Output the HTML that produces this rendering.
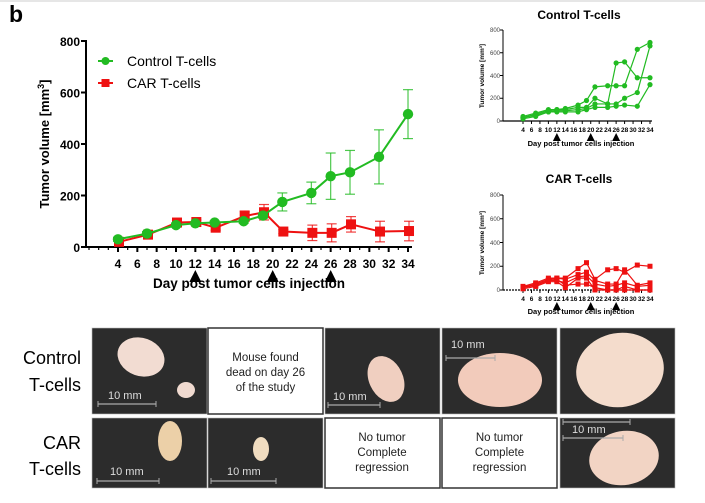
<!DOCTYPE html>
<html><head><meta charset="utf-8"><style>
html,body{margin:0;padding:0;background:#fff;width:705px;height:503px;overflow:hidden}
svg{display:block;font-family:"Liberation Sans",Arial,sans-serif}
</style></head><body>
<svg id="s" width="705" height="503" viewBox="0 0 705 503">
<rect x="0" y="0" width="705" height="2" fill="#e6e6e6"/>
<text x="9" y="22" font-size="23" font-weight="bold">b</text>
<g font-size="12" font-weight="bold" text-anchor="end">
<text x="80" y="46">800</text><text x="80" y="149">400</text><text x="80" y="252">0</text>
<text x="80" y="97.5">600</text><text x="80" y="200.5">200</text>
</g>
<text transform="translate(49,144) rotate(-90)" font-size="13" font-weight="bold" text-anchor="middle">Tumor volume [mm<tspan font-size="9" dy="-5">3</tspan><tspan dy="5">]</tspan></text>
<g font-size="12" font-weight="bold" text-anchor="middle">
<text x="118" y="268">4</text><text x="137.3" y="268">6</text><text x="156.7" y="268">8</text><text x="176" y="268">10</text><text x="195.3" y="268">12</text><text x="214.7" y="268">14</text><text x="234" y="268">16</text><text x="253.3" y="268">18</text><text x="272.7" y="268">20</text><text x="292" y="268">22</text><text x="311.3" y="268">24</text><text x="330.7" y="268">26</text><text x="350" y="268">28</text><text x="369.3" y="268">30</text><text x="388.7" y="268">32</text><text x="408" y="268">34</text>
</g>
<text x="249" y="288" font-size="13.5" font-weight="bold" text-anchor="middle">Day post tumor cells injection</text>
<g id="main"></g>
<line x1="98" y1="61" x2="113" y2="61" stroke="#22bb22" stroke-width="2"/><circle cx="105.5" cy="61" r="4" fill="#22bb22"/>
<line x1="98" y1="83" x2="113" y2="83" stroke="#ee1111" stroke-width="2"/><rect x="101.5" y="79" width="8" height="8" fill="#ee1111"/>
<text x="127" y="66" font-size="14">Control T-cells</text>
<text x="127" y="88" font-size="14">CAR T-cells</text>
<text x="579" y="19" font-size="12" font-weight="bold" text-anchor="middle">Control T-cells</text>
<text x="579" y="183" font-size="12" font-weight="bold" text-anchor="middle">CAR T-cells</text>
<g font-size="6" fill="#444" text-anchor="end">
<text x="500" y="32">800</text><text x="500" y="55">600</text><text x="500" y="78">400</text><text x="500" y="100">200</text><text x="500" y="123">0</text>
<text x="500" y="197">800</text><text x="500" y="221">600</text><text x="500" y="245">400</text><text x="500" y="268">200</text><text x="500" y="292">0</text>
</g>
<text transform="translate(484,76) rotate(-90)" font-size="6.5" font-weight="bold" text-anchor="middle">Tumor volume [mm³]</text>
<text transform="translate(484,243) rotate(-90)" font-size="6.5" font-weight="bold" text-anchor="middle">Tumor volume [mm³]</text>
<g font-size="6.5" font-weight="bold" text-anchor="middle">
<text x="523" y="132">4</text><text x="531.5" y="132">6</text><text x="540" y="132">8</text><text x="548.4" y="132">10</text><text x="556.9" y="132">12</text><text x="565.3" y="132">14</text><text x="573.8" y="132">16</text><text x="582.3" y="132">18</text><text x="590.7" y="132">20</text><text x="599.2" y="132">22</text><text x="607.7" y="132">24</text><text x="616.1" y="132">26</text><text x="624.6" y="132">28</text><text x="633" y="132">30</text><text x="641.5" y="132">32</text><text x="650" y="132">34</text>
<text x="523" y="301">4</text><text x="531.5" y="301">6</text><text x="540" y="301">8</text><text x="548.4" y="301">10</text><text x="556.9" y="301">12</text><text x="565.3" y="301">14</text><text x="573.8" y="301">16</text><text x="582.3" y="301">18</text><text x="590.7" y="301">20</text><text x="599.2" y="301">22</text><text x="607.7" y="301">24</text><text x="616.1" y="301">26</text><text x="624.6" y="301">28</text><text x="633" y="301">30</text><text x="641.5" y="301">32</text><text x="650" y="301">34</text>
</g>
<text x="581" y="146" font-size="7.5" font-weight="bold" text-anchor="middle">Day post tumor cells injection</text>
<text x="581" y="314" font-size="7.5" font-weight="bold" text-anchor="middle">Day post tumor cells injection</text>
<g id="small"></g>
<g font-size="18" text-anchor="end">
<text x="81" y="364">Control</text><text x="81" y="391">T-cells</text>
<text x="81" y="449">CAR</text><text x="81" y="475">T-cells</text>
</g>
<g id="photos"></g>
<g font-size="11.5" text-anchor="middle" fill="#222">
<text x="265.5" y="361">Mouse found</text><text x="265.5" y="376">dead on day 26</text><text x="265.5" y="391">of the study</text>
<text x="382" y="441">No tumor</text><text x="382" y="456">Complete</text><text x="382" y="471">regression</text>
<text x="499.5" y="441">No tumor</text><text x="499.5" y="456">Complete</text><text x="499.5" y="471">regression</text>
</g>
<g font-size="11" fill="#ddd">
<text x="108" y="399">10 mm</text><text x="333" y="400">10 mm</text><text x="451" y="348">10 mm</text><text x="572" y="433">10 mm</text>
<text x="110" y="475">10 mm</text><text x="227" y="475">10 mm</text>
</g>
</svg>
<script>
var NS="http://www.w3.org/2000/svg";
function el(p,t,a){var e=document.createElementNS(NS,t);for(var k in a)e.setAttribute(k,a[k]);p.appendChild(e);return e;}
var M=document.getElementById("main"),S=document.getElementById("small"),P=document.getElementById("photos");
function mx(d){return 118+(d-4)*9.667;} function my(v){return 247-v*0.2575;}
el(M,"line",{x1:86,y1:40,x2:86,y2:248,stroke:"#000","stroke-width":2});
el(M,"line",{x1:85,y1:247,x2:412,y2:247,stroke:"#000","stroke-width":2});
[0,200,400,600,800].forEach(function(v){el(M,"line",{x1:81,y1:my(v),x2:86,y2:my(v),stroke:"#000","stroke-width":2});});
for(var d=-2;d<=34;d++){var x=mx(d);if(x<87)continue;var big=(d%2==0&&d>=4);el(M,"line",{x1:x,y1:247,x2:x,y2:big?252:250,stroke:"#000","stroke-width":big?2:1.2});}
[12,20,26].forEach(function(d){var x=mx(d);el(M,"polygon",{points:(x-6)+",282 "+(x+6)+",282 "+x+",270",fill:"#000"});});
var days=[4,7,10,12,14,17,19,21,24,26,28,31,34];
var g=[30,52,85,92,95,100,122,175,210,275,290,350,516],ge=[8,8,8,6,6,8,10,35,42,90,85,105,95];
var r=[20,48,95,97,75,120,135,60,55,55,88,60,62],re=[6,8,10,8,10,20,30,8,30,35,30,40,38];
function series(vals,err,col,sq,dx){
 var pts=days.map(function(d,i){return (mx(d)+dx)+","+my(vals[i]);}).join(" ");
 el(M,"polyline",{points:pts,fill:"none",stroke:col,"stroke-width":2});
 days.forEach(function(d,i){var x=mx(d)+dx,e=err[i];
  el(M,"line",{x1:x,y1:my(vals[i]+e),x2:x,y2:my(vals[i]-e),stroke:col,"stroke-width":1.2,opacity:.8});
  el(M,"line",{x1:x-5,y1:my(vals[i]+e),x2:x+5,y2:my(vals[i]+e),stroke:col,"stroke-width":1.2,opacity:.8});
  el(M,"line",{x1:x-5,y1:my(vals[i]-e),x2:x+5,y2:my(vals[i]-e),stroke:col,"stroke-width":1.2,opacity:.8});
  if(sq)el(M,"rect",{x:x-5,y:my(vals[i])-5,width:10,height:10,fill:col});else el(M,"circle",{cx:x,cy:my(vals[i]),r:5.2,fill:col});});
}
series(r,re,"#ee1111",true,1);
series(g,ge,"#22bb22",false,0);
function sx(d){return 523+(d-4)*4.233;}
function small(top,bot,lines,col,sq,arrowY){
 var sy=function(v){return bot-v*(bot-top)/800;};
 el(S,"line",{x1:503,y1:top,x2:503,y2:bot,stroke:"#000","stroke-width":1});
 el(S,"line",{x1:503,y1:bot,x2:652,y2:bot,stroke:"#000","stroke-width":1.2,"stroke-dasharray":sq?"2,1":"none"});
 [0,200,400,600,800].forEach(function(v){el(S,"line",{x1:500,y1:sy(v),x2:503,y2:sy(v),stroke:"#000","stroke-width":1});});
 for(var d=4;d<=34;d+=2)el(S,"line",{x1:sx(d),y1:bot,x2:sx(d),y2:bot+3,stroke:"#000","stroke-width":1});
 [12,20,26].forEach(function(d){var x=sx(d);el(S,"polygon",{points:(x-4)+","+(arrowY+8)+" "+(x+4)+","+(arrowY+8)+" "+x+","+arrowY,fill:"#000"});});
 lines.forEach(function(L){
  el(S,"polyline",{points:days.map(function(d,i){return sx(d)+","+sy(L[i]);}).join(" "),fill:"none",stroke:col,"stroke-width":1.2});
  days.forEach(function(d,i){if(sq)el(S,"rect",{x:sx(d)-2.5,y:sy(L[i])-2.5,width:5,height:5,fill:col});else el(S,"circle",{cx:sx(d),cy:sy(L[i]),r:2.6,fill:col});});
 });
}
small(30,121,[[40,70,100,100,110,140,180,300,310,310,310,630,690],[30,60,90,100,100,120,120,200,150,510,520,380,380],[20,40,80,90,90,100,110,150,150,150,200,250,660],[30,50,80,80,80,80,100,120,120,130,140,130,320]],"#22bb22",false,133);
small(195,290,[[30,60,100,100,100,180,230,90,170,180,150,210,200],[20,50,90,100,90,130,150,80,50,50,170,40,60],[30,40,80,80,60,110,120,50,30,40,60,30,40],[20,40,80,90,40,50,50,20,0,0,30,0,0],[10,30,70,70,20,100,100,0,0,0,0,0,0]],"#ee1111",true,302);
function box(x,y,w,h,dark){el(P,"rect",{x:x,y:y,width:w,height:h,fill:dark?"#2c2c2c":"#fff",stroke:dark?"#bbb":"#333","stroke-width":dark?0.6:1.5});}
var w=115;
box(92,328,w,86,1);box(208,328,w,86,0);box(325,328,w,86,1);box(442,328,w,86,1);box(560,328,w,86,1);
box(92,418,w,70,1);box(208,418,w,70,1);box(325,418,w,70,0);box(442,418,w,70,0);box(560,418,w,70,1);
function blob(cx,cy,rx,ry,rot,col){el(P,"ellipse",{cx:cx,cy:cy,rx:rx,ry:ry,fill:col,transform:"rotate("+rot+" "+cx+" "+cy+")"});}
blob(141,357,24,19,20,"#f2dcd2");blob(186,390,9,8,0,"#f0dad0");
blob(386,379,17,24,-25,"#f0cfc0");
blob(500,380,42,27,0,"#f2cbbb");
blob(620,370,44,37,-10,"#f4dccc");
blob(170,441,12,20,0,"#ecd0a8");
blob(261,449,8,12,0,"#f0dcc0");
blob(624,458,35,27,-10,"#f2d4c4");
function bar(x1,x2,y){el(P,"line",{x1:x1,y1:y,x2:x2,y2:y,stroke:"#aaa","stroke-width":1.2});el(P,"line",{x1:x1,y1:y-3,x2:x1,y2:y+3,stroke:"#aaa"});el(P,"line",{x1:x2,y1:y-3,x2:x2,y2:y+3,stroke:"#aaa"});}
bar(98,156,404);bar(328,380,405);bar(446,495,358);bar(563,623,438);bar(97,159,481);bar(211,276,481);bar(563,630,422);
</script>
</body></html>
